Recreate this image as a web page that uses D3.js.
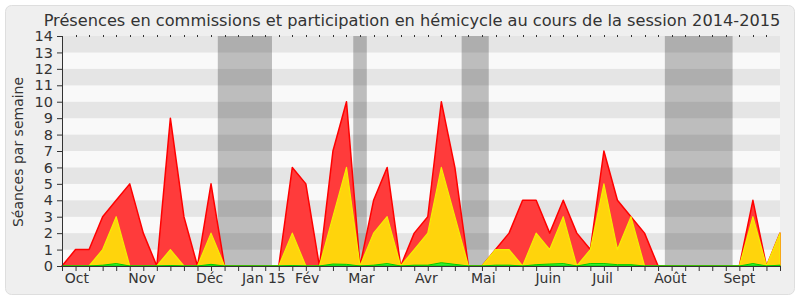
<!DOCTYPE html>
<html>
<head>
<meta charset="utf-8">
<script src="https://cdn.jsdelivr.net/npm/d3@7"></script>
<style>
  body { margin: 0; background: #fff; }
  text { font-family: "DejaVu Sans", sans-serif; fill: #333; }
</style>
</head>
<body>
<div id="chart"></div>
<script>
// weekly values, session 2014-2015 (week 0 = end of September)
var total      = [0,1,1,3,4,5,2,0,9,3,0,5,0,0,0,0,0,6,5,0,7,10,0,4,6,0,2,3,10,6,0,0,1,2,4,4,2,4,2,1,7,4,3,2,0,0,0,0,0,0,0,4,0,2];
var hemicycle  = [0,0,0,1,3,0,0,0,1,0,0,2,0,0,0,0,0,2,0,0,3,6,0,2,3,0,1,2,6,3,0,0,1,1,0,2,1,3,0,1,5,1,3,0,0,0,0,0,0,0,0,3,0,2];
var commission = [0,0,0,0.05,0.15,0,0,0,0.03,0,0,0.1,0,0,0,0,0,0.03,0,0,0.12,0.1,0,0.05,0.15,0,0.05,0.05,0.2,0.1,0,0,0.05,0.05,0,0.08,0.12,0.15,0,0.15,0.15,0.08,0.08,0,0,0,0,0,0,0,0,0.15,0,0.05];

// holidays, in week indexes [start, end]
var vacances = [[11.5, 15.5], [21.5, 22.5], [29.5, 31.5], [44.5, 49.5]];

var months   = ["Oct","Nov","Déc","Jan 15","Fév","Mar","Avr","Mai","Juin","Juil","Août","Sept"];
var monthPos = [1.1, 5.9, 10.9, 14.9, 18.1, 22.1, 26.9, 31.1, 35.9, 39.9, 44.9, 50.0];
var yTicks   = d3.range(0, 15);

var W = 800, H = 300;
var margin = {top: 36, right: 20, bottom: 34, left: 62};

var svg = d3.select("#chart").append("svg")
    .attr("width", W)
    .attr("height", H);

// panel
svg.append("rect")
    .attr("x", 5.5).attr("y", 5.5)
    .attr("width", 789).attr("height", 289)
    .attr("rx", 6)
    .attr("fill", "#efefef")
    .attr("stroke", "#dedede");

var x = d3.scaleLinear()
    .domain([0, total.length - 1])
    .range([margin.left, W - margin.right]);

var y = d3.scaleLinear()
    .domain([0, 14])
    .range([H - margin.bottom, margin.top]);

// horizontal stripes
svg.append("g")
  .selectAll("rect")
  .data(d3.range(0, 14))
  .enter().append("rect")
    .attr("x", x(0))
    .attr("width", x(total.length - 1) - x(0))
    .attr("y", function(d) { return y(d + 1); })
    .attr("height", function(d) { return y(d) - y(d + 1); })
    .attr("fill", function(d) { return d % 2 ? "#e5e5e5" : "#f9f9f9"; });

// holidays
svg.append("g")
  .selectAll("rect")
  .data(vacances)
  .enter().append("rect")
    .attr("x", function(d) { return x(d[0]); })
    .attr("width", function(d) { return x(d[1]) - x(d[0]); })
    .attr("y", y(14))
    .attr("height", y(0) - y(14))
    .attr("fill", "#000")
    .attr("fill-opacity", 0.24);

function area(values) {
  return d3.area()
    .x(function(d, i) { return x(i); })
    .y0(y(0))
    .y1(function(d) { return y(d); })(values);
}

svg.append("path")
    .attr("d", area(total))
    .attr("fill", "#ff3b3b")
    .attr("stroke", "#ff0000")
    .attr("stroke-width", 1.5)
    .attr("stroke-linejoin", "round");

svg.append("path")
    .attr("d", area(hemicycle))
    .attr("fill", "#ffd40c")
    .attr("stroke", "#f4f000")
    .attr("stroke-width", 1.2)
    .attr("stroke-linejoin", "round");

svg.append("path")
    .attr("d", area(commission))
    .attr("fill", "#33ee33")
    .attr("stroke", "#00cc00")
    .attr("stroke-width", 1);

// y axis
var yAxis = svg.append("g")
    .attr("transform", "translate(" + x(0) + ",0)")
    .call(d3.axisLeft(y).tickValues(yTicks).tickSize(5).tickPadding(4).tickFormat(d3.format("d")));
yAxis.select(".domain").attr("stroke", "#333").attr("d", "M0.5," + y(14) + "V" + y(0));
yAxis.selectAll(".tick line").attr("stroke", "#333");
yAxis.selectAll("text")
    .style("font-size", "14.5px")
    .attr("fill", "#333");

// x axis (weeks)
var xAxis = svg.append("g")
    .attr("transform", "translate(0," + y(0) + ")")
    .call(d3.axisBottom(x).tickValues(d3.range(0, total.length)).tickSize(5).tickFormat(""));
xAxis.select(".domain").attr("stroke", "#333").attr("d", "M" + x(0) + ",0.5H" + x(total.length - 1));
xAxis.selectAll(".tick line").attr("stroke", "#333");

// small marks on top edge
svg.append("g")
  .selectAll("line")
  .data(d3.range(1, total.length - 1))
  .enter().append("line")
    .attr("x1", function(d) { return Math.round(x(d)) + 0.5; })
    .attr("x2", function(d) { return Math.round(x(d)) + 0.5; })
    .attr("y1", y(14) - 1)
    .attr("y2", y(14) + 1)
    .attr("stroke", "#333");

// month labels
svg.append("g")
  .selectAll("text")
  .data(months)
  .enter().append("text")
    .attr("x", function(d, i) { return x(monthPos[i]); })
    .attr("y", 283)
    .attr("text-anchor", "middle")
    .style("font-size", "14px")
    .text(function(d) { return d; });

// title
svg.append("text")
    .attr("x", 412)
    .attr("y", 26)
    .attr("text-anchor", "middle")
    .style("font-size", "16.2px")
    .text("Présences en commissions et participation en hémicycle au cours de la session 2014-2015");

// y label
svg.append("text")
    .attr("transform", "translate(23," + 152 + ") rotate(-90)")
    .attr("text-anchor", "middle")
    .style("font-size", "14px")
    .text("Séances par semaine");
</script>
</body>
</html>
